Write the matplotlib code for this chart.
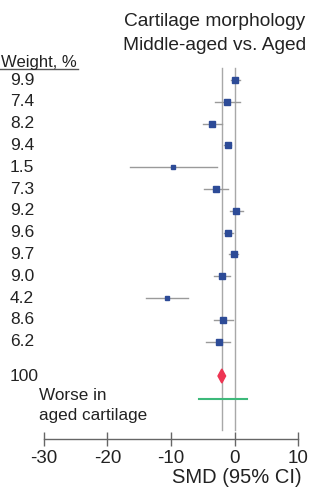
import matplotlib
matplotlib.use("Agg")
import matplotlib.pyplot as plt
from matplotlib.patches import Polygon
import matplotlib.transforms as mtransforms

plt.rcParams['font.family'] = ['Liberation Sans', 'DejaVu Sans']

# ---- data ----
weights = ["9.9", "7.4", "8.2", "9.4", "1.5", "7.3", "9.2", "9.6", "9.7", "9.0", "4.2", "8.6", "6.2"]
weight_vals = [9.9, 7.4, 8.2, 9.4, 1.5, 7.3, 9.2, 9.6, 9.7, 9.0, 4.2, 8.6, 6.2]
smd = [0.1, -1.2, -3.5, -1.1, -9.7, -2.9, 0.3, -1.0, -0.1, -2.0, -10.7, -1.8, -2.5]
ci_low = [-0.6, -3.0, -5.0, -1.7, -16.5, -4.8, -0.7, -1.7, -0.8, -3.3, -14.0, -3.2, -4.5]
ci_high = [0.8, 0.9, -2.0, -0.5, -2.8, -1.1, 1.4, -0.3, 0.6, -0.7, -7.3, -0.3, -0.7]
total_weight = "100"
summary = -2.0
summary_low = -2.6
summary_high = -1.4
pred_low = -5.6
pred_high = 1.9
xticks = [-30, -20, -10, 0, 10]

W, H = 315, 494
fig = plt.figure(figsize=(W / 100, H / 100), dpi=100)
# axes: x from pixel 44 to 298, y from pixel 60 (top) to 439 (bottom)
ax = fig.add_axes([44 / W, 1 - 439 / H, (298 - 44) / W, (439 - 60) / H])

row0, step = 80, 21.8
def rowpix(p):
    return (p - row0) / step

ax.set_xlim(-30, 10)
ax.set_ylim(rowpix(439), rowpix(60))

for s in ['top', 'right', 'left']:
    ax.spines[s].set_visible(False)
ax.spines['bottom'].set_color('#666666')
ax.spines['bottom'].set_linewidth(1.0)
ax.set_yticks([])
ax.set_xticks(xticks)
ax.set_xticklabels([str(t) for t in xticks], fontsize=13.5, color='#222222')
ax.tick_params(axis='x', direction='inout', length=10, width=1.0, color='#666666', pad=3)

# vertical reference lines
ax.plot([0, 0], [rowpix(68), rowpix(430)], color='#a8a8a8', lw=1.0, zorder=1)
ax.plot([summary, summary], [rowpix(68), rowpix(430)], color='#a8a8a8', lw=1.0, zorder=1)

marker_color = '#2D4B97'
for i, (m, lo, hi, w) in enumerate(zip(smd, ci_low, ci_high, weight_vals)):
    ax.plot([lo, hi], [i, i], color='#9a9a9a', lw=1.0, zorder=2)
    ms = 2.2 + 0.26 * w
    ax.plot([m], [i], marker='s', ms=ms, color=marker_color, mec=marker_color, zorder=3)

# summary diamond
ys = rowpix(376)
dh = 7 / step
diamond = Polygon([[summary_low, ys], [summary, ys - dh], [summary_high, ys], [summary, ys + dh]],
                  closed=True, facecolor='#EE3553', edgecolor='#EE3553', zorder=4)
ax.add_patch(diamond)

# prediction interval
yp = rowpix(399)
ax.plot([pred_low, pred_high], [yp, yp], color='#3DB97A', lw=1.5, zorder=3)

# weight column
trans = mtransforms.blended_transform_factory(fig.transFigure, ax.transData)
for i, w in enumerate(weights):
    ax.text(10 / W, i, w, transform=trans, ha='left', va='center', fontsize=12.5, color='#222222')
ax.text(10 / W, ys, total_weight, transform=trans, ha='left', va='center', fontsize=12.5, color='#222222')

# header
fig.text(1 / W, 1 - 62 / H, "Weight, %", ha='left', va='center', fontsize=12, color='#222222')
fig.add_artist(plt.Line2D([0, 78 / W], [1 - 69.5 / H, 1 - 69.5 / H], transform=fig.transFigure,
                          color='#555555', lw=1.0))

# title
fig.text(215 / W, 1 - 21 / H, "Cartilage morphology", ha='center', va='center', fontsize=13.8, color='#222222')
fig.text(215 / W, 1 - 46 / H, "Middle-aged vs. Aged", ha='center', va='center', fontsize=13.8, color='#222222')

# annotation
fig.text(39 / W, 1 - 395 / H, "Worse in", ha='left', va='center', fontsize=12.3, color='#222222')
fig.text(39 / W, 1 - 415 / H, "aged cartilage", ha='left', va='center', fontsize=12.3, color='#222222')

# x label
fig.text(302 / W, 1 - 477 / H, "SMD (95% CI)", ha='right', va='center', fontsize=14.5, color='#222222')

fig.savefig("out.png", dpi=100)
